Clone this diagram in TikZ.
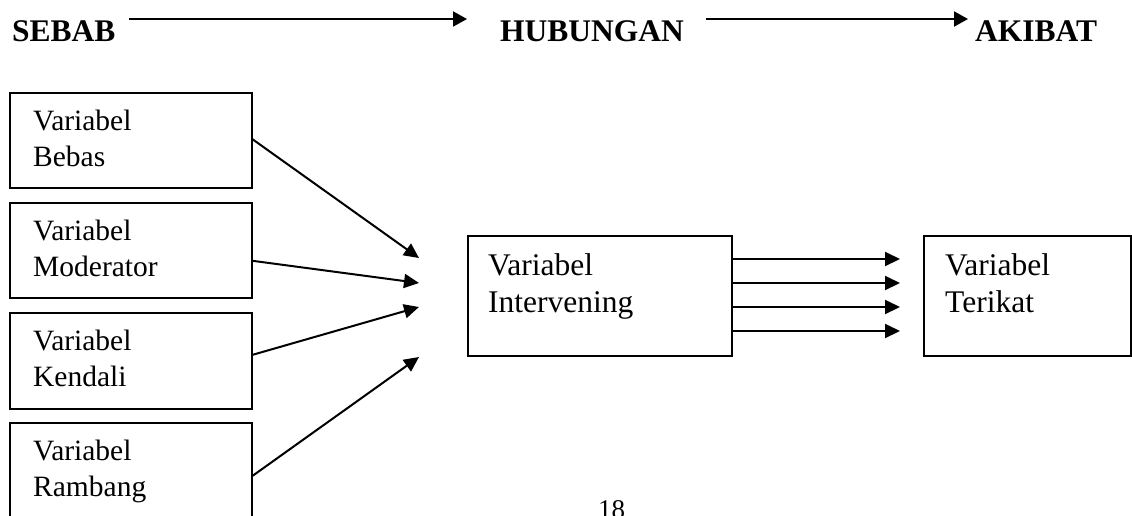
\documentclass[tikz,border=0pt]{standalone}
\usepackage{fontspec}
\setmainfont{Liberation Serif}
\usetikzlibrary{arrows.meta}
\tikzset{
  box/.style={draw, line width=1.6pt, rectangle, inner sep=0pt, anchor=north west},
  lbl/.style={anchor=base west, inner sep=0pt, font=\fontsize{29.5}{34}\selectfont},
  pglbl/.style={anchor=base west, inner sep=0pt, font=\fontsize{27}{30}\selectfont},
  biglbl/.style={anchor=base west, inner sep=0pt, font=\fontsize{31.5}{37}\selectfont},
  head/.style={anchor=base west, inner sep=0pt, font=\fontsize{31.5}{36}\selectfont\bfseries},
  arr/.style={line width=2pt, -{Triangle[length=15pt,width=14pt]}},
  harr/.style={line width=2pt, -{Triangle[length=14pt,width=15pt]}}
}
\begin{document}
\begin{tikzpicture}[x=1pt,y=-1pt]
\useasboundingbox (0,0) rectangle (1132,515);
\clip (0,0) rectangle (1132,515);
% header
\node[head] (sebab) at (12,41) {SEBAB};
\node[head] (hub) at (500,41) {HUBUNGAN};
\node[head] (akibat) at (975,41) {AKIBAT};
\coordinate (h1s) at (129,19);
\coordinate (h1e) at (467,19);
\coordinate (h2s) at (706,19);
\coordinate (h2e) at (968,19);
\draw[harr] (h1s) -- (h1e);
\draw[harr] (h2s) -- (h2e);
% left boxes
\node[box, minimum width=242pt, minimum height=95pt] (b1) at (9,92) {};
\node[box, minimum width=242pt, minimum height=95pt] (b2) at (9,202) {};
\node[box, minimum width=242pt, minimum height=96pt] (b3) at (9,312) {};
\node[box, minimum width=242pt, minimum height=96pt] (b4) at (9,422) {};
\node[lbl] (t1a) at (33,130) {Variabel};
\node[lbl] (t1b) at (33,166) {Bebas};
\node[lbl] (t2a) at (33,240) {Variabel};
\node[lbl] (t2b) at (33,276) {Moderator};
\node[lbl] (t3a) at (33,350) {Variabel};
\node[lbl] (t3b) at (33,386) {Kendali};
\node[lbl] (t4a) at (33,460) {Variabel};
\node[lbl] (t4b) at (33,496) {Rambang};
% middle and right boxes
\node[box, minimum width=264pt, minimum height=120pt] (mb) at (467,235) {};
\node[biglbl] (mta) at (488,275) {Variabel};
\node[biglbl] (mtb) at (488,312) {Intervening};
\node[box, minimum width=207pt, minimum height=120pt] (rb) at (923,235) {};
\node[biglbl] (rta) at (945,275) {Variabel};
\node[biglbl] (rtb) at (945,312) {Terikat};
% converging arrows
\coordinate (c1) at (419,258);
\coordinate (c2) at (419,283);
\coordinate (c3) at (419,307);
\coordinate (c4) at (419,357);
\draw[arr] ([yshift=1pt]b1.east) -- (c1);
\draw[arr] ([yshift=-10.5pt]b2.east) -- (c2);
\draw[arr] ([yshift=6pt]b3.east) -- (c3);
\draw[arr] ([yshift=-5pt]b4.east) -- (c4);
% parallel arrows
\coordinate (e1) at (900,259);
\coordinate (e2) at (900,283);
\coordinate (e3) at (900,307);
\coordinate (e4) at (900,331);
\draw[arr] (mb.east |- e1) -- (e1);
\draw[arr] (mb.east |- e2) -- (e2);
\draw[arr] (mb.east |- e3) -- (e3);
\draw[arr] (mb.east |- e4) -- (e4);
% page number
\node[pglbl] (pg) at (598,518) {18};
\end{tikzpicture}
\end{document}
